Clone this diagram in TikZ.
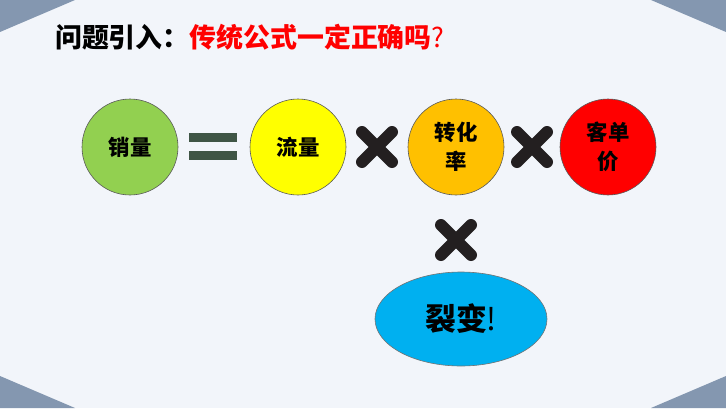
\documentclass[tikz,border=0pt]{standalone}
\usepackage{fontspec}
\newfontfamily\cjk{Noto Sans CJK SC}
\usetikzlibrary{shapes.geometric}

\definecolor{slate}{HTML}{8497B0}
\definecolor{paper}{HTML}{F2F5FA}
\definecolor{bargreen}{HTML}{3F5545}
\definecolor{markgray}{HTML}{231F20}
\definecolor{ballgreen}{HTML}{92D050}
\definecolor{ballyellow}{HTML}{FFFF00}
\definecolor{ballorange}{HTML}{FFC000}
\definecolor{ballred}{HTML}{FF0000}
\definecolor{ballblue}{HTML}{00B0F0}

\tikzset{
  ball/.style={circle,draw=black!65,line width=0.6bp,minimum size=96bp,
    inner sep=0pt,align=center,font=\cjk\bfseries\fontsize{21.5}{29}\selectfont},
  crossmark/.pic={
    \draw[markgray,line width=12bp,line cap=round]
      (-15bp,-15bp) -- (15bp,15bp) (-15bp,15bp) -- (15bp,-15bp);
  },
}

\begin{document}
\begin{tikzpicture}[x=1bp,y=1bp]
  \path[use as bounding box] (0,0) rectangle (726,408);
  \fill[paper] (0,0) rectangle (726,408);

  % corner wedges
  \fill[slate] (0,408) -- (75,408) -- (0,376) -- cycle;
  \fill[slate] (726,408) -- (651,408) -- (726,376) -- cycle;
  \fill[slate] (0,0) -- (75,0) -- (0,32) -- cycle;
  \fill[slate] (726,0) -- (651,0) -- (726,32) -- cycle;

  \node[anchor=west,inner sep=0pt] (title) at (55,371) {%
    \cjk\fontsize{27}{31}\selectfont
    {\bfseries 问题引入：}{\color{red}\bfseries 传统公式一定正确吗}{\color{red}?}};

  \node[ball,fill=ballgreen] (sales) at (130,261) {销量};
  \node[ball,fill=ballyellow] (traffic) at (298,261) {流量};
  \node[ball,fill=ballorange] (conv) at (456,261) {转化\\率};
  \node[ball,fill=ballred] (price) at (608,261) {客单\\价};

  % equals sign
  \fill[bargreen] (189,266) rectangle (237,275);
  \fill[bargreen] (189,248) rectangle (237,257);

  \pic at (377,261) {crossmark};
  \pic at (532,261) {crossmark};
  \pic at (456,168) {crossmark};

  \node[ellipse,draw=black!55,line width=0.6bp,fill=ballblue,
    minimum width=172bp,minimum height=94bp,inner sep=0pt,
    font=\cjk\bfseries\fontsize{31}{36}\selectfont] (fission) at (461,89) {裂变{\mdseries !}};
\end{tikzpicture}
\end{document}
